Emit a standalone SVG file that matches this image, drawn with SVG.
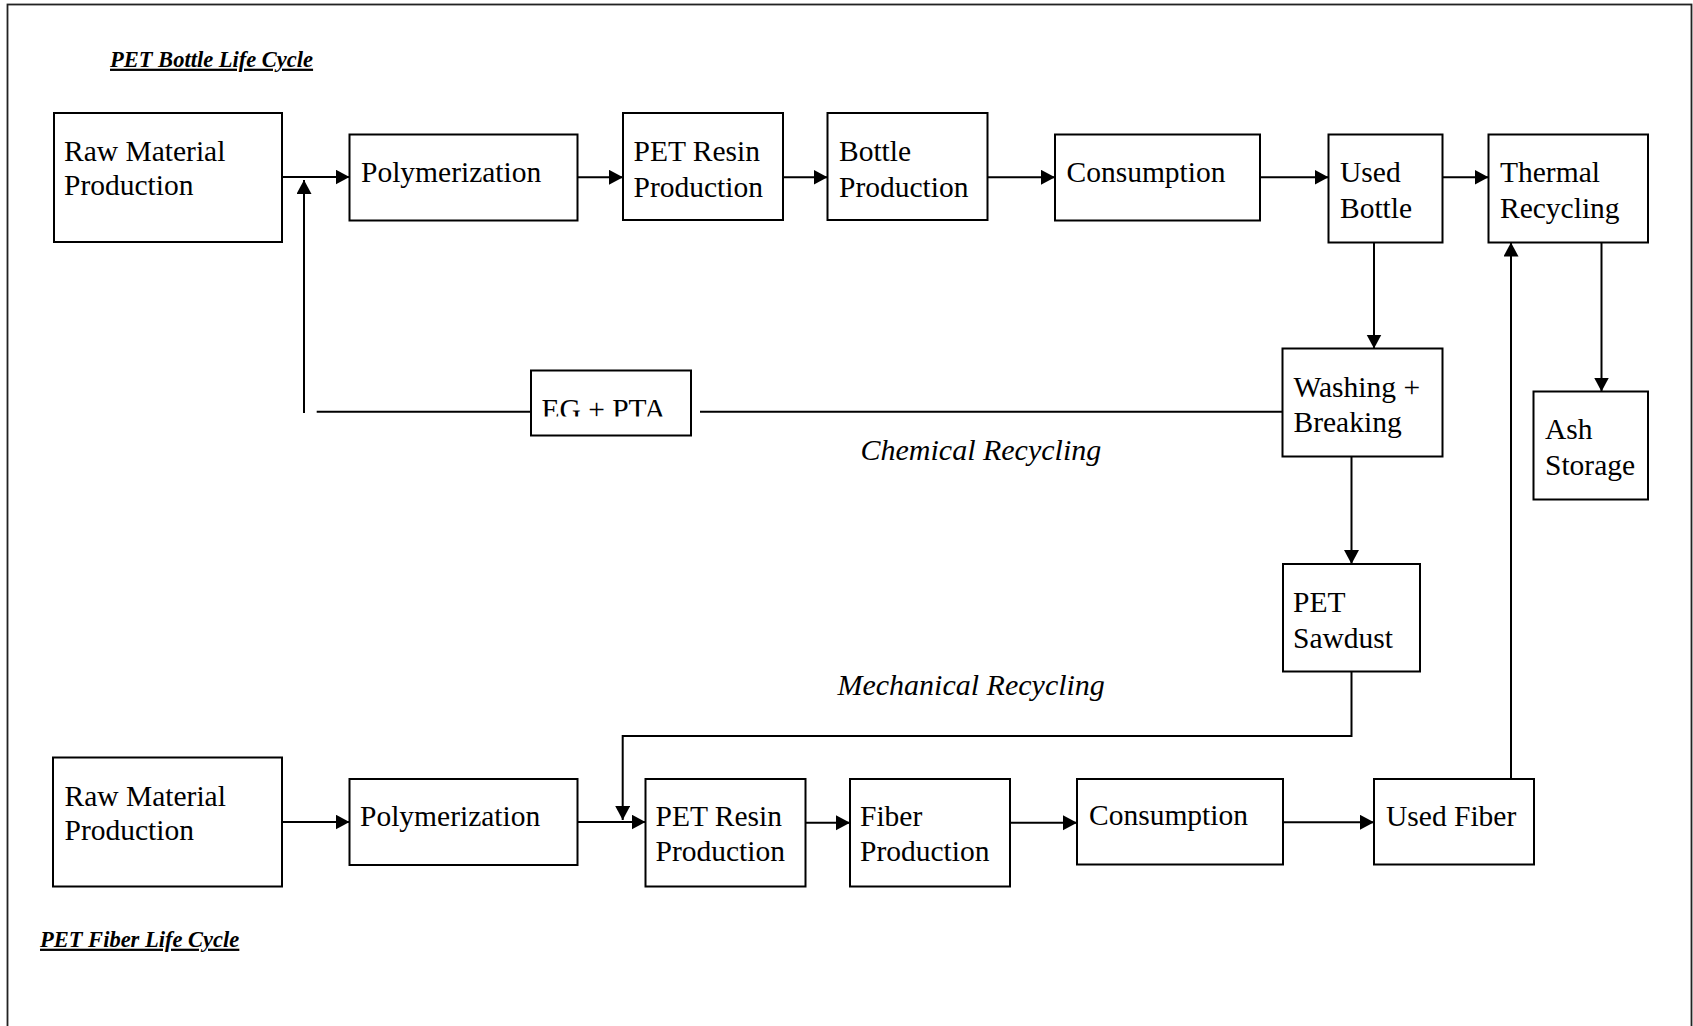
<svg xmlns="http://www.w3.org/2000/svg" width="1693" height="1026" viewBox="0 0 1693 1026">
<style>
.box{fill:#fff;stroke:#000;stroke-width:2}
.t{font-family:"Liberation Serif","Times New Roman",serif;font-size:29.5px;fill:#000}
.lbl{font-family:"Liberation Serif","Times New Roman",serif;font-size:30px;font-style:italic;fill:#000}
.title{font-family:"Liberation Serif","Times New Roman",serif;font-size:22.5px;font-style:italic;font-weight:bold;fill:#000;text-decoration:underline}
.c{fill:none;stroke:#000;stroke-width:2}
.a{marker-end:url(#arr)}
</style>
<defs>
<marker id="arr" markerUnits="userSpaceOnUse" markerWidth="15" markerHeight="16" refX="14" refY="7.5" orient="auto">
<path d="M0,0 L14,7.5 L0,15 z" fill="#000"/>
</marker>
<clipPath id="egclip"><rect x="531" y="370" width="160" height="46.5"/></clipPath>
</defs>
<rect x="7.5" y="4.5" width="1684" height="1040" fill="none" stroke="#222" stroke-width="1.8"/>
<text class="title" x="110" y="66.7">PET Bottle Life Cycle</text>
<text class="title" x="40" y="946.7">PET Fiber Life Cycle</text>
<text class="lbl" x="860.5" y="460">Chemical Recycling</text>
<text class="lbl" x="837.5" y="695">Mechanical Recycling</text>

<g id="connectors">
<line class="c a" x1="282" y1="177" x2="349.5" y2="177"/>
<line class="c a" x1="304" y1="413" x2="304" y2="180"/>
<line class="c" x1="316.7" y1="411.7" x2="533" y2="411.7"/>
<line class="c" x1="700" y1="411.7" x2="1288" y2="411.7"/>
<line class="c a" x1="577.5" y1="177.3" x2="623" y2="177.3"/>
<line class="c a" x1="783" y1="177.3" x2="827.5" y2="177.3"/>
<line class="c a" x1="987.5" y1="177.3" x2="1055" y2="177.3"/>
<line class="c a" x1="1260" y1="177.3" x2="1328.5" y2="177.3"/>
<line class="c a" x1="1442.5" y1="177.3" x2="1488.5" y2="177.3"/>
<line class="c a" x1="1374" y1="242.5" x2="1374" y2="348.5"/>
<line class="c a" x1="1601.5" y1="242.5" x2="1601.5" y2="391.5"/>
<line class="c a" x1="1351.5" y1="456.5" x2="1351.5" y2="564"/>
<path class="c a" d="M1351.5,671.5 V736 H622.7 V820"/>
<line class="c a" x1="1511" y1="779" x2="1511" y2="242.5"/>
<line class="c a" x1="282" y1="822" x2="349.5" y2="822"/>
<line class="c a" x1="577.5" y1="822" x2="645.5" y2="822"/>
<line class="c a" x1="805.5" y1="822.7" x2="850" y2="822.7"/>
<line class="c a" x1="1010" y1="822.7" x2="1077" y2="822.7"/>
<line class="c a" x1="1283" y1="822.3" x2="1374" y2="822.3"/>
</g>

<g id="raw1"><rect class="box" x="54" y="113" width="228" height="129"/><text class="t" x="64" y="161">Raw Material</text><text class="t" x="64" y="195">Production</text></g>
<g id="poly1"><rect class="box" x="349.5" y="134.5" width="228" height="86"/><text class="t" x="361" y="182">Polymerization</text></g>
<g id="resin1"><rect class="box" x="623" y="113" width="160" height="107"/><text class="t" x="633.5" y="161">PET Resin</text><text class="t" x="633.5" y="196.5">Production</text></g>
<g id="bottle"><rect class="box" x="827.5" y="113" width="160" height="107"/><text class="t" x="839" y="161">Bottle</text><text class="t" x="839" y="196.5">Production</text></g>
<g id="cons1"><rect class="box" x="1055" y="134.5" width="205" height="86"/><text class="t" x="1066.5" y="182">Consumption</text></g>
<g id="usedbottle"><rect class="box" x="1328.5" y="134.5" width="114" height="108"/><text class="t" x="1340" y="182.3">Used</text><text class="t" x="1340" y="217.7">Bottle</text></g>
<g id="thermal"><rect class="box" x="1488.5" y="134.5" width="159.5" height="108"/><text class="t" x="1500" y="182.3">Thermal</text><text class="t" x="1500" y="217.7">Recycling</text></g>
<g id="washing"><rect class="box" x="1282.5" y="348.5" width="160" height="108"/><text class="t" x="1293.5" y="397.3">Washing +</text><text class="t" x="1293.5" y="432.3">Breaking</text></g>
<g id="ash"><rect class="box" x="1533.5" y="391.5" width="114.5" height="108"/><text class="t" x="1545" y="439">Ash</text><text class="t" x="1545" y="475">Storage</text></g>
<g id="egpta"><rect class="box" x="531" y="370.5" width="160" height="65"/><text class="t" x="541.5" y="419" clip-path="url(#egclip)">EG + PTA</text></g>
<g id="sawdust"><rect class="box" x="1283" y="564" width="137" height="107.5"/><text class="t" x="1293" y="611.7">PET</text><text class="t" x="1293" y="647.7">Sawdust</text></g>
<g id="raw2"><rect class="box" x="53" y="757.5" width="229" height="129"/><text class="t" x="64.5" y="806">Raw Material</text><text class="t" x="64.5" y="840">Production</text></g>
<g id="poly2"><rect class="box" x="349.5" y="779" width="228" height="86"/><text class="t" x="360" y="826">Polymerization</text></g>
<g id="resin2"><rect class="box" x="645.5" y="779" width="160" height="107.5"/><text class="t" x="655.5" y="826">PET Resin</text><text class="t" x="655.5" y="861">Production</text></g>
<g id="fiber"><rect class="box" x="850" y="779" width="160" height="107.5"/><text class="t" x="860" y="826">Fiber</text><text class="t" x="860" y="861">Production</text></g>
<g id="cons2"><rect class="box" x="1077" y="779" width="206" height="85.5"/><text class="t" x="1089" y="825">Consumption</text></g>
<g id="usedfiber"><rect class="box" x="1374" y="779" width="160" height="85.5"/><text class="t" x="1386" y="825.7">Used Fiber</text></g>
</svg>
